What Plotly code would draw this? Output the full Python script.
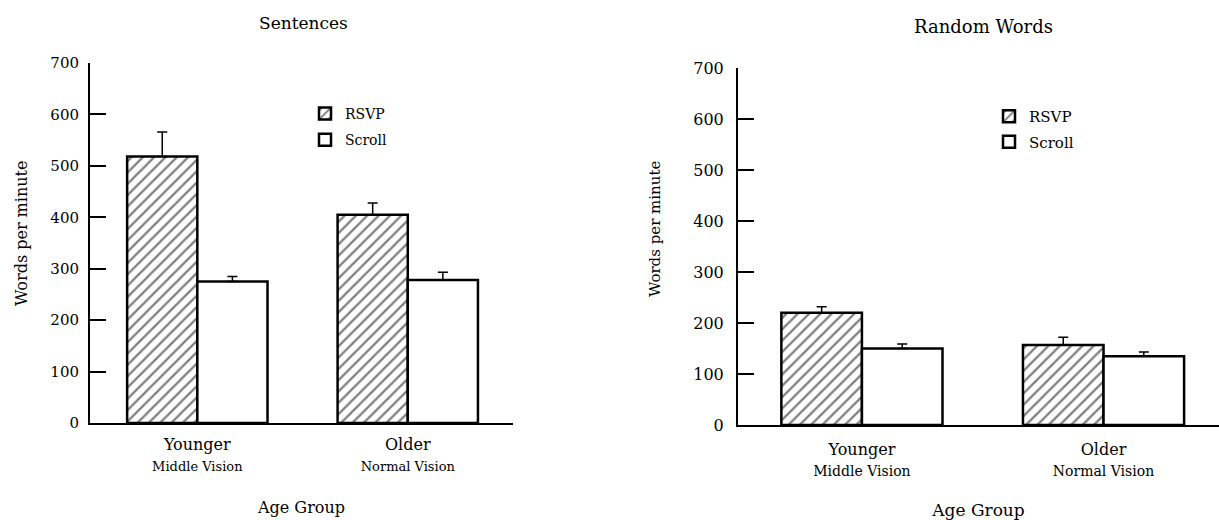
import plotly.graph_objects as go

# ---- data ----
groups = ["Younger", "Older"]
subgroups = ["Middle Vision", "Normal Vision"]

sent_rsvp = [518, 405]
sent_rsvp_err = [48, 23]
sent_scroll = [275, 278]
sent_scroll_err = [10, 15]

rand_rsvp = [220, 157]
rand_rsvp_err = [12, 15]
rand_scroll = [150, 135]
rand_scroll_err = [9, 8]

y_ticks = [0, 100, 200, 300, 400, 500, 600, 700]

FONT = "DejaVu Serif"
W, H = 1219, 520

fig = go.Figure()

def add_pair(rsvp, rsvp_err, scroll, scroll_err, xa, ya, legend):
    fig.add_trace(go.Bar(
        x=groups, y=rsvp, name="RSVP", xaxis=xa, yaxis=ya, legend=legend,
        legendgroup=legend + "a",
        marker=dict(color="white", line=dict(color="black", width=2.5),
                    pattern=dict(shape="/", size=8, solidity=0.28, fgcolor="black", bgcolor="white")),
        error_y=dict(type="data", symmetric=False, array=rsvp_err, arrayminus=[0] * len(rsvp_err),
                     color="black", thickness=1.5, width=5),
    ))
    fig.add_trace(go.Bar(
        x=groups, y=scroll, name="Scroll", xaxis=xa, yaxis=ya, legend=legend,
        legendgroup=legend + "b",
        marker=dict(color="white", line=dict(color="black", width=2.5)),
        error_y=dict(type="data", symmetric=False, array=scroll_err, arrayminus=[0] * len(scroll_err),
                     color="black", thickness=1.5, width=5),
    ))

add_pair(sent_rsvp, sent_rsvp_err, sent_scroll, sent_scroll_err, "x", "y", "legend")
add_pair(rand_rsvp, rand_rsvp_err, rand_scroll, rand_scroll_err, "x2", "y2", "legend2")

def xaxis(domain, rng, anchor, big, small, title_size, label_standoff, title_standoff):
    tick_text = [f"{g}<br><span style='font-size:{small}px'>{s}</span>" for g, s in zip(groups, subgroups)]
    return dict(domain=domain, range=rng, anchor=anchor, showline=True, linecolor="black",
                linewidth=2, ticks="", showgrid=False, zeroline=False,
                tickvals=groups, ticktext=tick_text, ticklabelstandoff=label_standoff,
                tickfont=dict(family=FONT, size=big, color="black"),
                title=dict(text="Age Group", font=dict(family=FONT, size=title_size, color="black"),
                           standoff=title_standoff),
                automargin=False, fixedrange=True)

def yaxis(domain, anchor, size, standoff):
    return dict(domain=domain, range=[0, 700], anchor=anchor, showline=True, linecolor="black",
                linewidth=2, ticks="inside", ticklen=16, tickwidth=1.5, tickcolor="black",
                tickvals=y_ticks, showgrid=False, zeroline=False, ticklabelstandoff=standoff,
                tickfont=dict(family=FONT, size=size, color="black"),
                automargin=False, fixedrange=True)

def text_ann(text, x, y, size, angle=0):
    return dict(text=text, x=x / W, y=(H - y) / H, xref="paper", yref="paper",
                xanchor="center", yanchor="middle", textangle=angle,
                showarrow=False, font=dict(family=FONT, size=size, color="black"))

fig.update_layout(
    width=W, height=H,
    margin=dict(l=0, r=0, t=0, b=0),
    paper_bgcolor="white", plot_bgcolor="white",
    barmode="group", bargap=0.333, bargroupgap=0,
    showlegend=True,
    xaxis=xaxis([90 / W, 513 / W], [-0.51, 1.5], "y", 16, 13, 16, 6, 29),
    yaxis=yaxis([(H - 423) / H, (H - 63) / H], "x", 15, 6),
    xaxis2=xaxis([738 / W, 1.0], [-0.513, 1.478], "y2", 16, 14, 17, 9, 30),
    yaxis2=yaxis([(H - 425) / H, (H - 68) / H], "x2", 16, 9),
    legend=dict(x=305 / W, y=(H - 98) / H, xanchor="left", yanchor="top",
                bgcolor="rgba(0,0,0,0)", tracegroupgap=5,
                font=dict(family=FONT, size=14, color="black")),
    legend2=dict(x=989 / W, y=(H - 100) / H, xanchor="left", yanchor="top",
                 bgcolor="rgba(0,0,0,0)", tracegroupgap=3,
                 font=dict(family=FONT, size=15, color="black")),
    annotations=[
        text_ann("Sentences", 303, 23, 17),
        text_ann("Random Words", 983, 26, 18),
        text_ann("Words per minute", 22, 234, 16, -90),
        text_ann("Words per minute", 655, 229, 15, -90),
    ],
)

fig.write_html("out.html")
